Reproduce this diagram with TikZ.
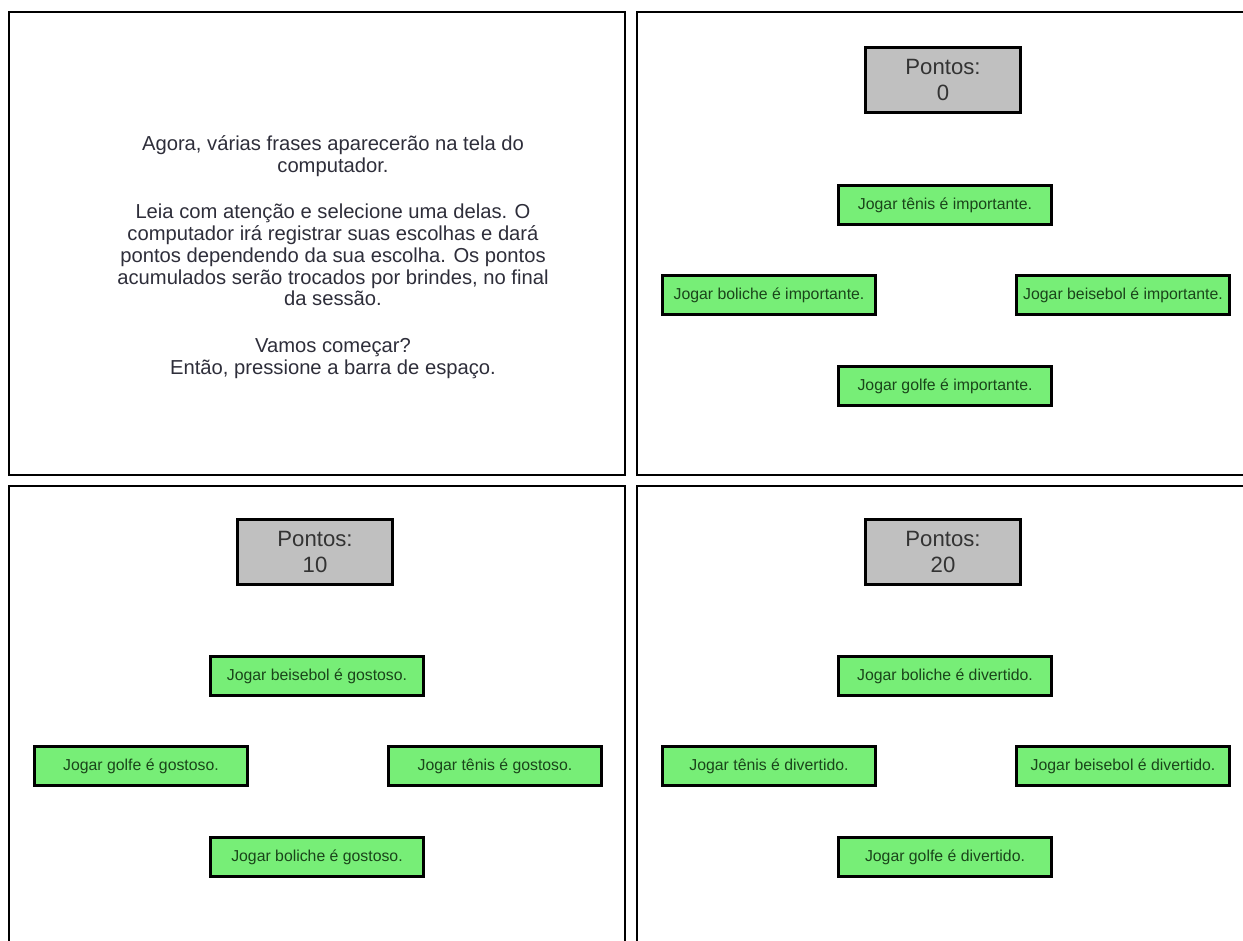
\documentclass[tikz,border=0pt]{standalone}
\usepackage{fontspec}
\setmainfont{Liberation Sans}
\usetikzlibrary{positioning}
\definecolor{choicegreen}{HTML}{77EE77}
\definecolor{choicetext}{HTML}{1A451A}
\definecolor{scoregray}{HTML}{C0C0C0}
\definecolor{scoretext}{HTML}{333333}
\definecolor{introink}{HTML}{2E2E3A}
\tikzstyle{panelline}=[draw=black, line width=1.3pt]
\tikzstyle{choicebox}=[draw=black, fill=choicegreen, line width=1.8pt, rectangle, minimum width=4.25cm, minimum height=0.78cm, inner sep=0pt, text=choicetext, font=\fontsize{9}{10}\selectfont]
\tikzstyle{scorebox}=[draw=black, fill=scoregray, line width=1.5pt, rectangle, minimum width=3.1cm, minimum height=1.3cm, inner sep=0pt, align=center, text=scoretext, font=\fontsize{12.6}{14.8}\selectfont]
\tikzstyle{introtext}=[draw=none, fill=none, align=center, text=introink, font=\fontsize{11.5}{12.4}\selectfont]

\begin{document}
\begin{tikzpicture}[x=0.02cm, y=-0.02cm]
\useasboundingbox (0,0) rectangle (1243,940);
\fill[white] (0,0) rectangle (1243,940);
% the four screens
\draw[panelline] (9,12) rectangle (625,475);
\draw[panelline] (1250,12) -- (637,12) -- (637,475) -- (1250,475);
\draw[panelline] (9,950) -- (9,486) -- (625,486) -- (625,950);
\draw[panelline] (637,950) -- (637,486) -- (1250,486);
% instructions
\node[introtext] (intro) at (333,257) {Agora, várias frases aparecerão na tela do\\computador.\\[14pt]Leia com atenção e selecione uma delas. O\\computador irá registrar suas escolhas e dará\\pontos dependendo da sua escolha. Os pontos\\acumulados serão trocados por brindes, no final\\da sessão.\\[14pt]Vamos começar?\\Então, pressione a barra de espaço.};
% first trial
\node[scorebox] (scoreA) at (943,80) {Pontos:\\0};
\node[choicebox] (tenisA) at (945,205) {Jogar tênis é importante.};
\node[choicebox] (bolicheA) at (769,295) {Jogar boliche é importante.};
\node[choicebox] (beisebolA) at (1123,295) {Jogar beisebol é importante.};
\node[choicebox] (golfeA) at (945,386) {Jogar golfe é importante.};
% second trial
\node[scorebox] (scoreB) at (315,552) {Pontos:\\10};
\node[choicebox] (beisebolB) at (317,676) {Jogar beisebol é gostoso.};
\node[choicebox] (golfeB) at (141,766) {Jogar golfe é gostoso.};
\node[choicebox] (tenisB) at (495,766) {Jogar tênis é gostoso.};
\node[choicebox] (bolicheB) at (317,857) {Jogar boliche é gostoso.};
% third trial
\node[scorebox] (scoreC) at (943,552) {Pontos:\\20};
\node[choicebox] (bolicheC) at (945,676) {Jogar boliche é divertido.};
\node[choicebox] (tenisC) at (769,766) {Jogar tênis é divertido.};
\node[choicebox] (beisebolC) at (1123,766) {Jogar beisebol é divertido.};
\node[choicebox] (golfeC) at (945,857) {Jogar golfe é divertido.};
\end{tikzpicture}
\end{document}
